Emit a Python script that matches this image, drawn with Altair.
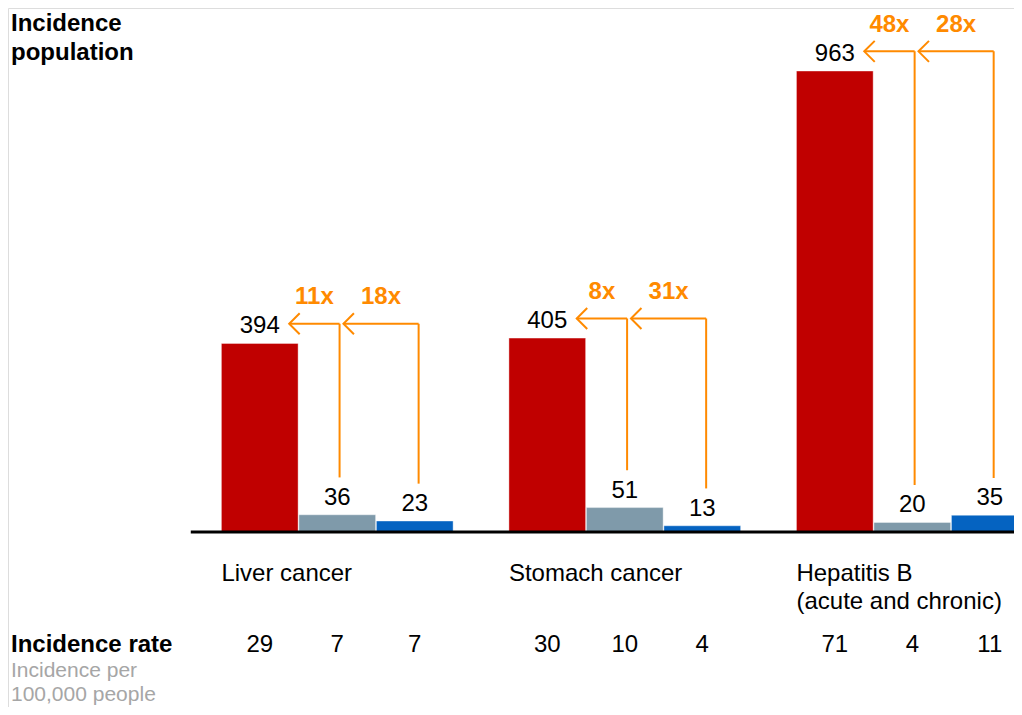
import altair as alt
import pandas as pd

# ---- data ----
groups = ["Liver cancer", "Stomach cancer", "Hepatitis B"]
group_second_line = ["", "", "(acute and chronic)"]
population = [[394, 36, 23], [405, 51, 13], [963, 20, 35]]
rates = [[29, 7, 7], [30, 10, 4], [71, 4, 11]]
mult_grey = ["11x", "8x", "48x"]
mult_blue = ["18x", "31x", "28x"]
bar_colors = ["#C00000", "#7F9AAA", "#0563C1"]
ORANGE = "#FF8A00"
GREY_TXT = "#A6A6A6"
FONT = "Liberation Sans"

# ---- layout (scale units: one bar = 1 unit) ----
W, H = 1006, 699
PX_PER_UNIT = 77.5
FIRST_CENTER_PX = 251.75
GROUP_STEP = 3.71
BAR_W = 0.99
BASE_PX = 524
PX_PER_VAL = 461 / 963.0
RATE_Y = 637

xdom = [-FIRST_CENTER_PX / PX_PER_UNIT, (W - FIRST_CENTER_PX) / PX_PER_UNIT]
ydom = [-(H - BASE_PX) / PX_PER_VAL, BASE_PX / PX_PER_VAL]
xs = alt.Scale(domain=xdom, nice=False, zero=False)
ys = alt.Scale(domain=ydom, nice=False, zero=False)

bars, rate_rows, cat_rows, rules, heads, mults = [], [], [], [], [], []
for g, name in enumerate(groups):
    centers = [g * GROUP_STEP + b for b in range(3)]
    for b in range(3):
        bars.append({"x": centers[b] - BAR_W / 2, "x2": centers[b] + BAR_W / 2,
                     "xc": centers[b], "y": 0, "v": population[g][b],
                     "c": bar_colors[b], "lbl": str(population[g][b])})
        rate_rows.append({"xc": centers[b], "t": str(rates[g][b])})
    cat_rows.append({"x": centers[0] - BAR_W / 2, "t1": name, "t2": group_second_line[g]})
    top = population[g][0] + 41
    gx = centers[1] + 0.03
    bx = centers[2] + 0.05
    tip1 = centers[0] + 0.38
    tip2 = gx + 0.05
    rules += [
        {"x": gx, "x2": gx, "y": population[g][1] + 78, "y2": top},
        {"x": tip1, "x2": gx, "y": top, "y2": top},
        {"x": bx, "x2": bx, "y": population[g][2] + 78, "y2": top},
        {"x": tip2, "x2": bx, "y": top, "y2": top},
    ]
    heads += [{"x": tip1, "y": top}, {"x": tip2, "y": top}]
    mults += [{"x": (tip1 + gx) / 2, "y": top + 56, "t": mult_grey[g]},
              {"x": (tip2 + bx) / 2, "y": top + 56, "t": mult_blue[g]}]

bars_df = pd.DataFrame(bars)

bar_layer = alt.Chart(bars_df).mark_rect(stroke="white", strokeWidth=0.4).encode(
    x=alt.X("x:Q", scale=xs, axis=None), x2="x2:Q",
    y=alt.Y("y:Q", scale=ys, axis=None), y2="v:Q",
    color=alt.Color("c:N", scale=None))

val_layer = alt.Chart(bars_df).mark_text(
    font=FONT, fontSize=24, baseline="bottom", dy=-5, color="black").encode(
    x=alt.X("xc:Q", scale=xs, axis=None), y=alt.Y("v:Q", scale=ys, axis=None), text="lbl:N")

baseline = alt.Chart(pd.DataFrame({"x": [-0.5 - 0.39], "x2": [xdom[1]], "y": [0]})).mark_rule(
    color="black", strokeWidth=3).encode(
    x=alt.X("x:Q", scale=xs, axis=None), x2="x2:Q", y=alt.Y("y:Q", scale=ys, axis=None))

rule_layer = alt.Chart(pd.DataFrame(rules)).mark_rule(color=ORANGE, strokeWidth=2).encode(
    x=alt.X("x:Q", scale=xs, axis=None), x2="x2:Q",
    y=alt.Y("y:Q", scale=ys, axis=None), y2="y2:Q")

head_layer = alt.Chart(pd.DataFrame(heads)).mark_point(
    shape="M1,-1L0,0L1,1", filled=False, size=440, strokeWidth=2, color=ORANGE, opacity=1).encode(
    x=alt.X("x:Q", scale=xs, axis=None), y=alt.Y("y:Q", scale=ys, axis=None))

mult_layer = alt.Chart(pd.DataFrame(mults)).mark_text(
    font=FONT, fontSize=24, fontWeight="bold", color=ORANGE, baseline="middle").encode(
    x=alt.X("x:Q", scale=xs, axis=None), y=alt.Y("y:Q", scale=ys, axis=None), text="t:N")

cat_df = pd.DataFrame(cat_rows)
cat1 = alt.Chart(cat_df).mark_text(font=FONT, fontSize=24, align="left", baseline="middle",
                                   color="black").encode(
    x=alt.X("x:Q", scale=xs, axis=None), y=alt.value(566), text="t1:N")
cat2 = alt.Chart(cat_df).mark_text(font=FONT, fontSize=24, align="left", baseline="middle",
                                   color="black").encode(
    x=alt.X("x:Q", scale=xs, axis=None), y=alt.value(594), text="t2:N")

rate_layer = alt.Chart(pd.DataFrame(rate_rows)).mark_text(
    font=FONT, fontSize=24, baseline="middle", color="black").encode(
    x=alt.X("xc:Q", scale=xs, axis=None), y=alt.value(RATE_Y), text="t:N")


def side_text(t, y, bold, color, size=24):
    return alt.Chart(pd.DataFrame({"t": [t]})).mark_text(
        font=FONT, fontSize=size, fontWeight="bold" if bold else "normal", align="left",
        baseline="middle", color=color).encode(x=alt.value(3), y=alt.value(y), text="t:N")


side = [
    side_text("Incidence", 16, True, "black"),
    side_text("population", 45, True, "black"),
    side_text("Incidence rate", RATE_Y, True, "black"),
    side_text("Incidence per", 663, False, GREY_TXT, 21),
    side_text("100,000 people", 687, False, GREY_TXT, 21),
]

chart = alt.layer(bar_layer, baseline, val_layer, rule_layer, head_layer, mult_layer,
                  cat1, cat2, rate_layer, *side).properties(
    width=W, height=H, autosize=alt.AutoSizeParams(type="none"), padding=0
).configure_view(stroke=None).configure(background="white")

chart.save("out.html", embed_options={"renderer": "svg", "actions": False})
